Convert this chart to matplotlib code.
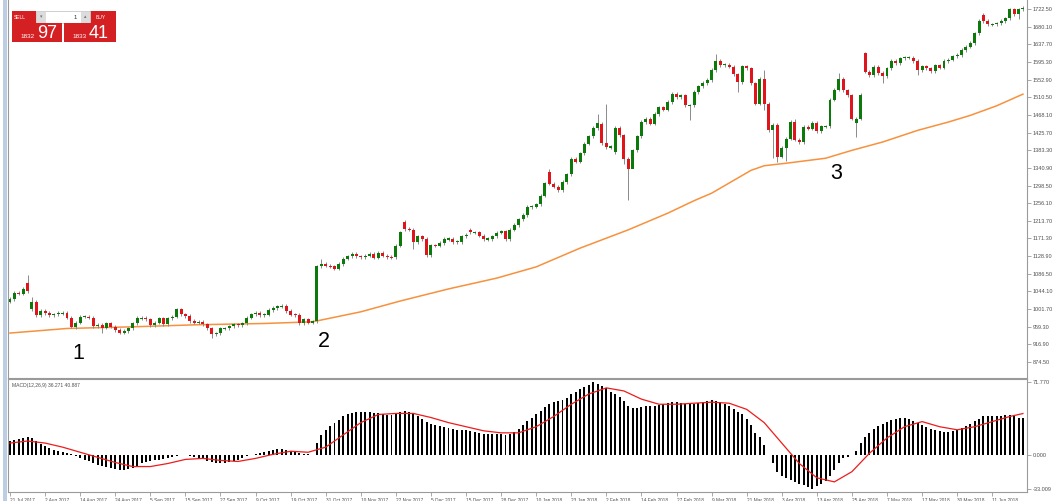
import numpy as np
import matplotlib.pyplot as plt
from matplotlib.patches import Rectangle

# ----------------------------------------------------
# 1. Datos del grafico (velas diarias, media movil y MACD)

fechas = ["21 Jul 2017", "2 Aug 2017", "14 Aug 2017", "24 Aug 2017", "5 Sep 2017",
          "15 Sep 2017", "27 Sep 2017", "9 Oct 2017", "19 Oct 2017", "31 Oct 2017",
          "10 Nov 2017", "22 Nov 2017", "5 Dec 2017", "15 Dec 2017", "28 Dec 2017",
          "10 Jan 2018", "23 Jan 2018", "2 Feb 2018", "14 Feb 2018", "27 Feb 2018",
          "9 Mar 2018", "21 Mar 2018", "3 Apr 2018", "13 Apr 2018", "25 Apr 2018",
          "7 May 2018", "17 May 2018", "30 May 2018", "11 Jun 2018"]

precio_ticks = [874.50, 916.90, 959.30, 1001.70, 1044.10, 1086.50, 1128.90, 1171.30,
                1213.70, 1256.10, 1298.50, 1340.90, 1383.30, 1425.70, 1468.10, 1510.50,
                1552.90, 1595.30, 1637.70, 1680.10, 1722.50]

macd_ticks = [71.770, 0.000, -33.009]

cierres = [1026, 1040, 1039, 1050, 1044, 1019, 987, 997, 992, 987,
           989, 992, 992, 981, 959, 969, 983, 983, 981, 961,
           963, 957, 967, 959, 951, 945, 949, 955, 967, 980,
           980, 977, 963, 969, 979, 965, 979, 983, 1001, 989,
           985, 973, 969, 971, 965, 955, 941, 943, 955, 955,
           960, 965, 963, 967, 981, 989, 992, 987, 988, 999,
           1004, 1008, 1009, 997, 988, 987, 968, 977, 969, 972,
           1104, 1110, 1106, 1104, 1099, 1110, 1123, 1128, 1134, 1128,
           1127, 1130, 1134, 1125, 1136, 1130, 1127, 1126, 1154, 1186,
           1194, 1192, 1162, 1176, 1170, 1131, 1155, 1154, 1160, 1170,
           1170, 1163, 1163, 1176, 1180, 1186, 1186, 1178, 1170, 1170,
           1176, 1185, 1188, 1170, 1192, 1204, 1217, 1228, 1247, 1248,
           1253, 1274, 1304, 1303, 1296, 1288, 1307, 1325, 1363, 1356,
           1376, 1399, 1417, 1437, 1449, 1400, 1391, 1391, 1437, 1419,
           1363, 1339, 1383, 1417, 1451, 1459, 1447, 1470, 1486, 1481,
           1499, 1518, 1510, 1515, 1491, 1491, 1523, 1537, 1545, 1552,
           1576, 1598, 1588, 1589, 1584, 1566, 1547, 1585, 1580, 1544,
           1495, 1554, 1495, 1431, 1445, 1368, 1389, 1411, 1451, 1409,
           1403, 1439, 1435, 1449, 1429, 1441, 1441, 1505, 1529, 1554,
           1527, 1515, 1459, 1459, 1517, 1572, 1564, 1584, 1569, 1561,
           1580, 1598, 1592, 1604, 1606, 1606, 1598, 1576, 1585, 1580,
           1574, 1587, 1582, 1598, 1601, 1609, 1612, 1624, 1632, 1641,
           1664, 1694, 1694, 1686, 1686, 1688, 1694, 1700, 1722, 1710,
           1722, 1724]

# aperturas con hueco respecto al cierre anterior
aperturas_gap = {0: 1019, 4: 1065, 5: 1001, 90: 1211, 105: 1192, 123: 1331,
                 135: 1447, 138: 1379, 193: 1449, 195: 1617, 222: 1708}

# mechas largas
maximos = {4: 1083, 5: 1030, 71: 1122, 90: 1216, 123: 1339, 134: 1471, 136: 1495,
           161: 1614, 172: 1575, 179: 1459, 189: 1568, 195: 1620, 231: 1730}
minimos = {15: 954, 21: 945, 46: 933, 47: 937, 92: 1147, 140: 1350, 141: 1264,
           142: 1355, 155: 1455, 166: 1523, 172: 1481, 174: 1365, 175: 1355,
           177: 1358, 193: 1415, 199: 1545, 207: 1563, 230: 1698}

media_idx = [0, 13, 28, 43, 58, 69, 80, 89, 100, 111, 120, 130, 141, 150, 156,
             160, 169, 172, 177, 186, 192, 199, 207, 214, 219, 225, 231]
media_val = [944, 955, 959, 964, 967, 971, 995, 1021, 1050, 1076, 1103, 1148, 1192,
             1232, 1262, 1280, 1335, 1346, 1352, 1364, 1383, 1403, 1431, 1451, 1467,
             1490, 1518]

macd = [14, 15, 16, 17, 18, 17, 14, 11,
        9, 7, 5, 4, 3, 2, 1, -1,
        -3, -5, -6, -8, -9, -10, -11, -12,
        -13, -14, -14, -13, -12, -10, -8, -7,
        -6, -5, -5, -4, -3, -2, -1, 0,
        0, -1, -2, -3, -4, -6, -7, -8,
        -8, -8, -7, -6, -5, -3, -1, 0,
        1, 2, 3, 4, 5, 6, 6, 5,
        4, 3, 2, 1, 1, 0, 12, 20,
        25, 29, 32, 35, 38, 40, 41, 42,
        42, 42, 42, 41, 41, 40, 39, 39,
        40, 42, 43, 42, 40, 38, 36, 33,
        31, 30, 29, 28, 27, 26, 25, 25,
        25, 24, 23, 22, 21, 21, 21, 21,
        21, 20, 21, 23, 26, 30, 34, 37,
        40, 43, 47, 50, 52, 53, 54, 56,
        60, 62, 65, 67, 69, 71.77, 70, 68,
        66, 62, 60, 57, 53, 48, 46, 46,
        47, 48, 48, 48, 49, 50, 51, 52,
        52, 51, 50, 50, 50, 51, 52, 53,
        54, 53, 52, 50, 48, 45, 42, 40,
        36, 30, 22, 18, 10, 0, -8, -16,
        -20, -22, -24, -26, -28, -29, -31, -33.009,
        -30, -28, -25, -20, -14, -8, -3, -2,
        0, 4, 12, 18, 22, 26, 29, 31,
        33, 35, 36, 37, 37, 36, 34, 32,
        30, 28, 26, 25, 24, 23, 23, 24,
        25, 27, 29, 31, 34, 36, 38, 38,
        38, 38, 38, 39, 39, 38, 37, 36.271]

senal_val = [12, 14, 12, 8, 3, -2, -7, -11,
             -11, -8, -4, -3, -5, -6, -3, 1,
             4, 3, 8, 20, 32, 40, 41, 41,
             37, 32, 28, 24, 22, 22, 28, 38,
             50, 60, 66, 63, 55, 50, 50, 51,
             52, 51, 45, 32, 12, -8, -22, -26,
             -16, 2, 17, 28, 33, 28, 25, 28,
             33, 38, 40.887]
senal_idx = list(range(0, 229, 4)) + [231]

# ----------------------------------------------------
# 2. Figura y paneles (coordenadas en pixeles de la imagen original)

W, H = 1056, 501
fig = plt.figure(figsize=(W / 100, H / 100), dpi=100)
fig.patch.set_facecolor('white')


def px_axes(x0, y0, x1, y1):
    return fig.add_axes([x0 / W, 1 - y1 / H, (x1 - x0) / W, (y1 - y0) / H])


ax = px_axes(8, 0, 1027, 378)
ax_m = px_axes(8, 379, 1027, 492)

paso = 4.385
x_izq = -2 / paso
x_der = (1027 - 10) / paso
fuente = 'Liberation Sans'
gris = '#9a9a9a'
verde = '#0b7a0b'
rojo = '#e0141b'

# ----------------------------------------------------
# 3. Velas

n = len(cierres)
x = np.arange(n)
aperturas = [aperturas_gap.get(i, cierres[i - 1]) for i in range(n)]
for i in range(n):
    o, c = aperturas[i], cierres[i]
    top, bot = max(o, c), min(o, c)
    hi = maximos.get(i, top + 4)
    lo = minimos.get(i, bot - 4)
    ax.vlines(i, lo, hi, color='#8a8a8a', lw=0.7, zorder=2)
    alto = max(top - bot, 2.5)
    ax.bar(i, alto, bottom=bot - (alto - (top - bot)) / 2, width=0.68,
           color=verde if c >= o else rojo, lw=0, zorder=3)

ax.plot(media_idx, media_val, color='#f7913d', lw=1.1, zorder=1)

ax.set_xlim(x_izq, x_der)
ax.set_ylim(836, 1744.2)
ax.yaxis.tick_right()
ax.set_yticks(precio_ticks)
ax.set_yticklabels([f"{v:.2f}" for v in precio_ticks], fontsize=4.0,
                   color='#505050', family=fuente)
ax.tick_params(axis='y', length=3, width=0.6, color=gris, pad=1)
ax.set_xticks([])
ax.spines['top'].set_visible(False)
for s in ['left', 'right', 'bottom']:
    ax.spines[s].set_color(gris)
    ax.spines[s].set_linewidth(0.8)

# numeros de referencia
ax.text(15.5, 894, "1", fontsize=15.5, family=fuente, ha='center', va='center')
ax.text(71.5, 923, "2", fontsize=15.5, family=fuente, ha='center', va='center')
ax.text(188.5, 1327, "3", fontsize=15.5, family=fuente, ha='center', va='center')

# ----------------------------------------------------
# 4. MACD

ax_m.bar(x, macd, width=0.45, color='black', lw=0)
ax_m.plot(senal_idx, senal_val, color='#ee1c1c', lw=0.9)
ax_m.set_xlim(x_izq, x_der)
ax_m.set_ylim(-35.9, 74.7)
ax_m.yaxis.tick_right()
ax_m.set_yticks(macd_ticks)
ax_m.set_yticklabels([f"{v:.3f}" for v in macd_ticks], fontsize=4.0,
                     color='#505050', family=fuente)
ax_m.tick_params(axis='y', length=3, width=0.6, color=gris, pad=1)
ax_m.set_xticks(range(0, 8 * len(fechas), 8))
ax_m.set_xticklabels(fechas, fontsize=3.4, color='#505050', family=fuente, ha='left')
ax_m.tick_params(axis='x', length=3, width=0.6, color=gris, pad=1)
for s in ax_m.spines.values():
    s.set_color(gris)
    s.set_linewidth(0.8)
ax_m.text(0.5, 71, "MACD(12,26,9) 36.271 40.887", fontsize=3.6, color='#505050',
          family=fuente, va='top')

# ----------------------------------------------------
# 5. Panel de operaciones y borde de la ventana

ov = fig.add_axes([0, 0, 1, 1], zorder=5)
ov.set_xlim(0, W)
ov.set_ylim(H, 0)
ov.axis('off')
ov.patch.set_alpha(0)

ov.add_patch(Rectangle((2.5, 0), 4, H, color='#bccde4', lw=0))
caja_roja = '#d41f23'
ov.add_patch(Rectangle((11.5, 11), 24.5, 12, color=caja_roja, lw=0))
ov.add_patch(Rectangle((90, 11), 25.5, 12, color=caja_roja, lw=0))
ov.add_patch(Rectangle((36, 11), 54, 12, facecolor='white', edgecolor='#c8c8c8', lw=0.6))
ov.add_patch(Rectangle((36.5, 11.5), 9, 11, color='#dcdcdc', lw=0))
ov.add_patch(Rectangle((80.5, 11.5), 9, 11, color='#dcdcdc', lw=0))
ov.add_patch(Rectangle((11.5, 23), 50.5, 19, color=caja_roja, lw=0))
ov.add_patch(Rectangle((63.5, 23), 52, 19, color=caja_roja, lw=0))
ov.text(13.5, 17, "SELL", fontsize=3.6, color='white', family=fuente, va='center')
ov.text(96, 17, "BUY", fontsize=3.6, color='white', family=fuente, va='center')
ov.text(77, 17, "1", fontsize=4.2, color='#303030', family=fuente, va='center', ha='right')
ov.text(41, 17, "\u25be", fontsize=3.5, color='#707070', ha='center', va='center')
ov.text(85, 17, "\u25b4", fontsize=3.5, color='#707070', ha='center', va='center')
ov.text(35, 36, "1832", fontsize=4.6, color='white', family=fuente, ha='right', va='center')
ov.text(37, 33, "97", fontsize=13, color='white', family=fuente, ha='left', va='center')
ov.text(87, 36, "1833", fontsize=4.6, color='white', family=fuente, ha='right', va='center')
ov.text(89, 33, "41", fontsize=13, color='white', family=fuente, ha='left', va='center')

fig.savefig("out.png", dpi=100)
